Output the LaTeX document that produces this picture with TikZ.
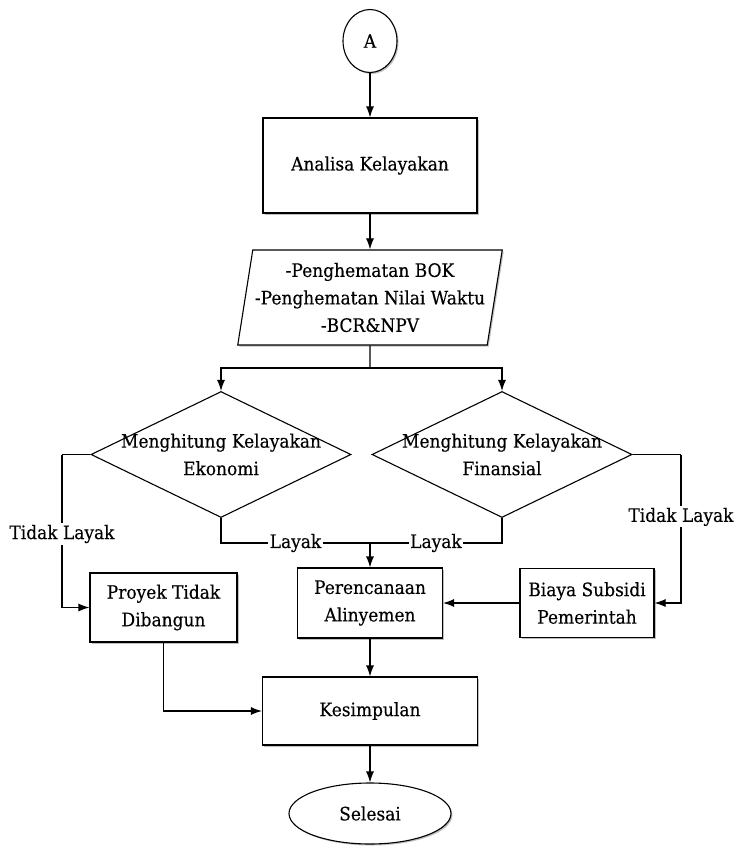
\documentclass[tikz,border=0pt]{standalone}
\usepackage{fontspec}
\setmainfont{DejaVu Serif}[FakeStretch=0.92,FakeBold=0.3]
\usetikzlibrary{shapes.geometric,arrows.meta,shadows}
\begin{document}
\begin{tikzpicture}[x=1pt,y=-1pt,
  font=\fontsize{18.5}{27.5}\selectfont,
  line width=1.1pt,
  shd/.style={drop shadow={shadow xshift=1.5pt,shadow yshift=-1.5pt,opacity=0.25,fill=black}},
  boxnode/.style={draw,fill=white,rectangle,align=center,inner sep=2pt,shd},
  ellnode/.style={draw,fill=white,ellipse,inner sep=0pt,shd},
  dianode/.style={draw,fill=white,diamond,inner sep=0pt,minimum width=260pt,minimum height=126pt},
  arr/.style={-{Latex[length=11pt,width=8pt]}},
  lbl/.style={fill=white,inner sep=1.5pt}
]
\useasboundingbox (0,0) rectangle (738,846);
\node[ellnode,minimum width=54pt,minimum height=63pt] (A) at (370,41) {A};
\node[boxnode,minimum width=214pt,minimum height=95pt] (anal) at (370,165.5) {Analisa Kelayakan};
\node[draw,fill=white,trapezium,trapezium left angle=78,trapezium right angle=102,
      trapezium stretches=true,minimum width=265pt,minimum height=95pt,inner sep=0pt,align=center,shd]
      (par) at (370,297.5) {-Penghematan BOK\\-Penghematan Nilai Waktu\\-BCR\&NPV};
\node[dianode,label={[align=center]center:Menghitung Kelayakan\\Ekonomi}] (ekon) at (221,454.5) {};
\node[dianode,label={[align=center]center:Menghitung Kelayakan\\Finansial}] (fin) at (502,454.5) {};
\node[boxnode,minimum width=147pt,minimum height=69pt] (proyek) at (163.5,607.5) {Proyek Tidak\\Dibangun};
\node[boxnode,minimum width=145pt,minimum height=70pt] (peren) at (370,603) {Perencanaan\\Alinyemen};
\node[boxnode,minimum width=134pt,minimum height=69pt] (biaya) at (587,603) {Biaya Subsidi\\Pemerintah};
\node[boxnode,minimum width=215pt,minimum height=68pt] (kes) at (370,711) {Kesimpulan};
\node[ellnode,minimum width=162pt,minimum height=61pt] (sel) at (370,813.5) {Selesai};
\coordinate (sp) at (370,368);
\coordinate (mj) at (370,543);
\coordinate (lc) at (62,454.5);
\coordinate (rc) at (681,454.5);
\draw[arr] (A) -- (anal);
\draw[arr] (anal) -- (par);
\draw (par.south) -- (sp);
\draw[arr] (sp) -| (ekon.north);
\draw[arr] (sp) -| (fin.north);
\draw (ekon.south) |- node[lbl,pos=0.75]{Layak} (mj);
\draw (fin.south) |- node[lbl,pos=0.75]{Layak} (mj);
\draw[arr] (mj) -- (peren);
\draw (ekon.west) -- (lc);
\draw[arr] (lc) |- node[lbl,pos=0.26]{Tidak Layak} (proyek.west);
\draw (fin.east) -- (rc);
\draw[arr] (rc) |- node[lbl,pos=0.21]{Tidak Layak} (biaya.east);
\draw[arr] (biaya) -- (peren);
\draw[arr] (proyek.south) |- (kes.west);
\draw[arr] (peren) -- (kes);
\draw[arr] (kes) -- (sel);
\end{tikzpicture}
\end{document}
